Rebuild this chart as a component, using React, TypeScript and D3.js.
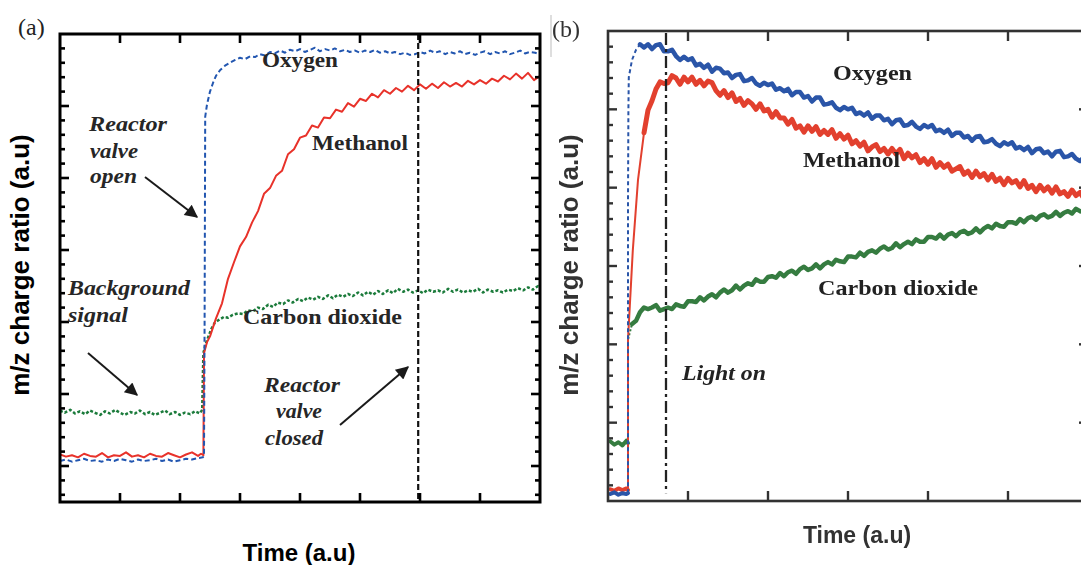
import React from "react";
import * as d3 from "d3";

type Pt = [number, number];

// ---------- Panel (a): valve open / closed experiment ----------
const oxygenA: Pt[] = [
  [0, 0.07], [0.1, 0.09], [0.2, 0.06], [0.3, 0.08], [0.4, 0.1], [0.5, 0.07], [0.6, 0.08], [0.7, 0.06],
  [0.8, 0.09], [0.9, 0.07], [1.0, 0.1], [1.1, 0.08], [1.2, 0.06], [1.3, 0.09], [1.4, 0.07], [1.5, 0.08],
  [1.6, 0.1], [1.7, 0.07], [1.8, 0.09], [1.9, 0.06], [2.0, 0.08], [2.1, 0.1], [2.2, 0.09], [2.3, 0.11],
  [2.38, 0.12], [2.4, 0.14], [2.41, 2.0], [2.42, 4.85], [2.45, 5.02], [2.5, 5.2], [2.55, 5.32], [2.6, 5.42],
  [2.67, 5.5], [2.75, 5.56], [2.83, 5.6], [2.92, 5.64], [3.0, 5.67], [3.08, 5.65], [3.17, 5.69], [3.25, 5.68],
  [3.33, 5.72], [3.42, 5.7], [3.5, 5.75], [3.58, 5.73], [3.67, 5.77], [3.75, 5.74], [3.83, 5.78], [3.92, 5.76],
  [4.0, 5.79], [4.08, 5.75], [4.17, 5.78], [4.25, 5.81], [4.33, 5.76], [4.42, 5.79], [4.5, 5.77], [4.58, 5.8],
  [4.67, 5.76], [4.75, 5.78], [4.83, 5.75], [4.92, 5.77], [5.0, 5.74], [5.08, 5.77], [5.17, 5.75], [5.25, 5.78],
  [5.33, 5.74], [5.42, 5.76], [5.5, 5.73], [5.58, 5.75], [5.67, 5.72], [5.75, 5.74], [5.83, 5.71], [5.92, 5.72],
  [6.0, 5.75], [6.08, 5.73], [6.17, 5.77], [6.25, 5.74], [6.33, 5.76], [6.42, 5.72], [6.5, 5.75], [6.58, 5.73],
  [6.67, 5.76], [6.75, 5.72], [6.83, 5.74], [6.92, 5.71], [7.0, 5.74], [7.08, 5.76], [7.17, 5.72], [7.25, 5.75],
  [7.33, 5.73], [7.42, 5.76], [7.5, 5.72], [7.58, 5.74], [7.67, 5.77], [7.75, 5.73], [7.83, 5.75], [7.92, 5.74],
  [8.0, 5.72],
];

const methanolA: Pt[] = [
  [0, 0.16], [0.1, 0.13], [0.2, 0.15], [0.3, 0.12], [0.4, 0.17], [0.5, 0.14], [0.6, 0.13], [0.7, 0.18],
  [0.8, 0.12], [0.9, 0.15], [1.0, 0.14], [1.1, 0.19], [1.2, 0.13], [1.3, 0.15], [1.4, 0.12], [1.5, 0.17],
  [1.6, 0.14], [1.7, 0.13], [1.8, 0.18], [1.9, 0.15], [2.0, 0.12], [2.1, 0.16], [2.2, 0.19], [2.3, 0.14],
  [2.35, 0.17], [2.39, 0.15], [2.4, 1.57], [2.45, 1.72], [2.5, 1.8], [2.6, 2.05], [2.7, 2.26], [2.8, 2.6],
  [2.9, 2.83], [3.0, 3.05], [3.1, 3.18], [3.2, 3.38], [3.3, 3.54], [3.4, 3.78], [3.5, 3.86], [3.6, 4.03],
  [3.7, 4.1], [3.8, 4.33], [3.9, 4.4], [4.0, 4.56], [4.1, 4.59], [4.2, 4.73], [4.3, 4.7], [4.4, 4.84],
  [4.5, 4.83], [4.6, 4.95], [4.7, 4.92], [4.8, 5.04], [4.9, 4.99], [5.0, 5.1], [5.1, 5.07], [5.2, 5.17],
  [5.3, 5.12], [5.4, 5.22], [5.5, 5.17], [5.6, 5.25], [5.7, 5.2], [5.8, 5.28], [5.9, 5.22], [6.0, 5.3],
  [6.1, 5.24], [6.2, 5.31], [6.3, 5.25], [6.4, 5.33], [6.5, 5.27], [6.6, 5.32], [6.7, 5.27], [6.8, 5.35],
  [6.9, 5.3], [7.0, 5.36], [7.1, 5.31], [7.2, 5.38], [7.3, 5.34], [7.4, 5.42], [7.5, 5.37], [7.6, 5.45],
  [7.7, 5.38], [7.8, 5.46], [7.9, 5.36], [8.0, 5.42],
];

const co2A: Pt[] = [
  [0, 0.77], [0.08, 0.74], [0.17, 0.78], [0.25, 0.73], [0.33, 0.76], [0.42, 0.72], [0.5, 0.77], [0.58, 0.74],
  [0.67, 0.71], [0.75, 0.76], [0.83, 0.73], [0.92, 0.78], [1.0, 0.74], [1.08, 0.71], [1.17, 0.75], [1.25, 0.73],
  [1.33, 0.77], [1.42, 0.72], [1.5, 0.75], [1.58, 0.71], [1.67, 0.74], [1.75, 0.77], [1.83, 0.72], [1.92, 0.75],
  [2.0, 0.71], [2.08, 0.74], [2.17, 0.72], [2.25, 0.76], [2.33, 0.73], [2.37, 0.78], [2.38, 1.2], [2.39, 1.57],
  [2.43, 1.7], [2.47, 1.79], [2.52, 1.9], [2.58, 1.99], [2.65, 2.03], [2.73, 2.07], [2.8, 2.06], [2.88, 2.1],
  [2.97, 2.12], [3.05, 2.11], [3.13, 2.16], [3.22, 2.15], [3.3, 2.2], [3.38, 2.18], [3.47, 2.24], [3.55, 2.21],
  [3.63, 2.27], [3.72, 2.25], [3.8, 2.3], [3.88, 2.27], [3.97, 2.32], [4.05, 2.29], [4.13, 2.34], [4.22, 2.31],
  [4.3, 2.35], [4.38, 2.32], [4.47, 2.37], [4.55, 2.33], [4.63, 2.38], [4.72, 2.35], [4.8, 2.39], [4.88, 2.36],
  [4.97, 2.41], [5.05, 2.37], [5.13, 2.42], [5.22, 2.38], [5.3, 2.43], [5.38, 2.39], [5.47, 2.44], [5.55, 2.4],
  [5.63, 2.46], [5.72, 2.42], [5.8, 2.45], [5.88, 2.41], [5.97, 2.44], [6.05, 2.4], [6.13, 2.45], [6.22, 2.42],
  [6.3, 2.44], [6.38, 2.41], [6.47, 2.46], [6.55, 2.42], [6.63, 2.45], [6.72, 2.41], [6.8, 2.44], [6.88, 2.42],
  [6.97, 2.46], [7.05, 2.41], [7.13, 2.45], [7.22, 2.42], [7.3, 2.44], [7.38, 2.41], [7.47, 2.45], [7.55, 2.43],
  [7.63, 2.47], [7.72, 2.44], [7.8, 2.48], [7.88, 2.45], [7.97, 2.5], [8.0, 2.48],
];

const valveClosedTimeA = 5.97;
const xTickValuesA = [1, 2, 3, 4, 5, 6, 7];

// ---------- Panel (b): illumination experiment ----------
const oxygenBaseB: Pt[] = [[0.03, 0.09], [0.08, 0.11], [0.13, 0.08], [0.18, 0.1], [0.23, 0.09], [0.25, 0.1]];
const methanolBaseB: Pt[] = [[0.03, 0.15], [0.08, 0.13], [0.13, 0.16], [0.18, 0.14], [0.23, 0.16], [0.25, 0.14]];
const co2BaseB: Pt[] = [[0.03, 0.76], [0.08, 0.72], [0.13, 0.75], [0.18, 0.71], [0.23, 0.77], [0.25, 0.74]];

const oxygenRiseB: Pt[] = [[0.25, 0.1], [0.25, 3.84], [0.255, 5.0], [0.26, 5.41], [0.3, 5.63], [0.35, 5.76], [0.4, 5.83]];
const methanolRiseB: Pt[] = [[0.25, 0.14], [0.25, 2.06], [0.31, 3.2], [0.375, 4.1], [0.44, 4.62], [0.45, 4.7]];
const co2RiseB: Pt[] = [[0.25, 0.74], [0.25, 2.06], [0.27, 2.14], [0.3, 2.26]];

// Dense traces after the valve opens, sampled every 0.05 time units
const SAMPLE_STEP_B = 0.05;
const oxygenStartB = 0.4;
const oxygenB = [
  5.83, 5.79, 5.83, 5.77, 5.82, 5.83, 5.74, 5.74, 5.76, 5.68, 5.63, 5.67, 5.63, 5.65, 5.56, 5.58,
  5.53, 5.57, 5.48, 5.53, 5.52, 5.46, 5.47, 5.4, 5.44, 5.45, 5.36, 5.37, 5.4, 5.33, 5.3, 5.34,
  5.31, 5.33, 5.25, 5.27, 5.23, 5.26, 5.18, 5.22, 5.22, 5.15, 5.17, 5.1, 5.15, 5.15, 5.06, 5.07,
  5.09, 5.02, 4.99, 5.03, 5.0, 5.02, 4.94, 4.96, 4.92, 4.96, 4.88, 4.92, 4.92, 4.86, 4.88, 4.81,
  4.86, 4.87, 4.79, 4.8, 4.84, 4.78, 4.75, 4.8, 4.77, 4.8, 4.72, 4.74, 4.7, 4.74, 4.66, 4.7,
  4.7, 4.64, 4.66, 4.6, 4.65, 4.66, 4.58, 4.59, 4.62, 4.56, 4.53, 4.58, 4.55, 4.58, 4.5, 4.52,
  4.48, 4.52, 4.44, 4.49, 4.5, 4.44, 4.46, 4.4, 4.46, 4.47, 4.39, 4.4, 4.43, 4.37, 4.34, 4.39,
  4.36,
];
const methanolStartB = 0.45;
const methanolB = [
  4.7, 4.99, 5.11, 5.26, 5.35, 5.33, 5.34, 5.43, 5.4, 5.32, 5.41, 5.35, 5.41, 5.32, 5.37, 5.3,
  5.36, 5.34, 5.24, 5.18, 5.24, 5.15, 5.21, 5.1, 5.14, 5.05, 5.11, 5.07, 5.0, 5.07, 4.98, 5.0,
  4.9, 4.97, 4.89, 4.89, 4.81, 4.87, 4.76, 4.79, 4.71, 4.79, 4.72, 4.78, 4.68, 4.73, 4.68, 4.74,
  4.63, 4.69, 4.62, 4.67, 4.56, 4.6, 4.53, 4.58, 4.47, 4.52, 4.55, 4.46, 4.5, 4.43, 4.5, 4.43,
  4.49, 4.37, 4.44, 4.38, 4.42, 4.32, 4.37, 4.3, 4.37, 4.26, 4.32, 4.26, 4.3, 4.21, 4.24, 4.27,
  4.17, 4.21, 4.13, 4.21, 4.14, 4.18, 4.1, 4.17, 4.08, 4.12, 4.04, 4.12, 4.06, 4.09, 4.01, 4.09,
  3.99, 4.03, 3.95, 4.03, 3.96, 4.01, 3.93, 4.01, 3.92, 3.95, 3.89, 3.97, 3.9, 3.94, 3.86, 3.91,
];
const co2StartB = 0.3;
const co2B = [
  2.26, 2.3, 2.41, 2.47, 2.45, 2.47, 2.5, 2.43, 2.45, 2.47, 2.45, 2.51, 2.49, 2.48, 2.55, 2.55,
  2.54, 2.6, 2.56, 2.61, 2.64, 2.6, 2.66, 2.7, 2.66, 2.69, 2.75, 2.7, 2.75, 2.78, 2.76, 2.83,
  2.8, 2.8, 2.86, 2.87, 2.85, 2.91, 2.87, 2.92, 2.94, 2.9, 2.96, 2.99, 2.95, 2.97, 3.02, 2.97,
  3.02, 3.05, 3.02, 3.08, 3.06, 3.05, 3.12, 3.12, 3.11, 3.17, 3.13, 3.18, 3.2, 3.17, 3.22, 3.25,
  3.21, 3.23, 3.29, 3.24, 3.28, 3.31, 3.28, 3.34, 3.31, 3.31, 3.37, 3.37, 3.35, 3.4, 3.35, 3.4,
  3.42, 3.38, 3.43, 3.45, 3.41, 3.43, 3.48, 3.43, 3.48, 3.51, 3.48, 3.54, 3.51, 3.5, 3.56, 3.56,
  3.54, 3.6, 3.56, 3.61, 3.63, 3.59, 3.64, 3.66, 3.62, 3.64, 3.69, 3.64, 3.68, 3.7, 3.67, 3.73,
  3.7, 3.69, 3.75,
];

const lightOnTimeB = 0.725;
const xTickValuesB = [1, 2, 3, 4, 5];

// ---------- helpers ----------
const toPts = (start: number, values: number[]): Pt[] =>
  values.map((v, i) => [start + i * SAMPLE_STEP_B, v] as Pt);

const COLORS = {
  blueA: "#2256b0",
  redA: "#e8322a",
  greenA: "#1b7b3b",
  blueB: "#2a54a8",
  redB: "#e2402f",
  greenB: "#367b40",
};

const SERIF = "'Liberation Serif', 'Times New Roman', serif";
const SANS = "'Liberation Sans', Arial, sans-serif";

type LabelProps = {
  x: number;
  y: number;
  w: number;
  italic?: boolean;
  fill: string;
  children: string;
};

// Bold serif annotation stretched to its measured width
function Label({ x, y, w, italic, fill, children }: LabelProps) {
  return (
    <text
      x={x}
      y={y}
      fontFamily={SERIF}
      fontWeight={700}
      fontStyle={italic ? "italic" : "normal"}
      fontSize={21}
      fill={fill}
      textLength={w}
      lengthAdjust="spacingAndGlyphs"
    >
      {children}
    </text>
  );
}

export default function App() {
  // Panel (a) scales
  const xA = d3.scaleLinear().domain([0, 8]).range([60, 540]);
  const yA = d3.scaleLinear().domain([-0.5, 6]).range([502, 34]);
  // Panel (b) scales (right edge runs past the page)
  const xB = d3.scaleLinear().domain([0, 6]).range([608, 1088]);
  const yB = d3.scaleLinear().domain([0, 6]).range([501, 31]);

  const lineA = d3.line<Pt>().x((d) => xA(d[0])).y((d) => yA(d[1]));
  const lineB = d3.line<Pt>().x((d) => xB(d[0])).y((d) => yB(d[1]));

  const yTicksA = d3.range(-2, 30).map((i) => ({ v: i / 5, major: i % 5 === 0 }));
  const yTicksB = d3.range(1, 30).map((i) => ({ v: i / 5, major: i % 5 === 0 }));

  const inkA = "#262626";
  const inkB = "#222";

  return (
    <svg
      width={1081}
      height={565}
      viewBox="0 0 1081 565"
      style={{ position: "absolute", left: 0, top: 0, background: "#fff" }}
    >
      <defs>
        <marker
          id="arrowHead"
          viewBox="0 0 10 10"
          refX={9}
          refY={5}
          markerWidth={16}
          markerHeight={13}
          markerUnits="userSpaceOnUse"
          orient="auto"
        >
          <path d="M0,0 L10,5 L0,10 z" fill="#1a1a1a" />
        </marker>
        <filter id="soft" x="-5%" y="-5%" width="110%" height="110%">
          <feGaussianBlur stdDeviation={0.45} />
        </filter>
        <clipPath id="clipA">
          <rect x={60} y={34} width={480} height={468} />
        </clipPath>
      </defs>
      <rect x={0} y={0} width={1081} height={565} fill="#fff" />

      {/* ================= Panel (a) ================= */}
      <g>
        <text x={18} y={35} fontFamily={SERIF} fontSize={24} fill="#222">
          (a)
        </text>

        <g clipPath="url(#clipA)" fill="none" strokeLinejoin="round">
          <path d={lineA(co2A) ?? ""} stroke={COLORS.greenA} strokeWidth={2.5} strokeDasharray="3 2" />
          <path d={lineA(methanolA) ?? ""} stroke={COLORS.redA} strokeWidth={2} />
          <path d={lineA(oxygenA) ?? ""} stroke={COLORS.blueA} strokeWidth={2} strokeDasharray="5 3" />
        </g>

        {/* valve-closed marker */}
        <line
          x1={xA(valveClosedTimeA)}
          x2={xA(valveClosedTimeA)}
          y1={yA(6)}
          y2={yA(-0.5)}
          stroke="#111"
          strokeWidth={2.2}
          strokeDasharray="6 3"
        />

        {/* frame */}
        <rect x={60} y={34} width={480} height={468} fill="none" stroke="#000" strokeWidth={3} />
        {xTickValuesA.map((t) => (
          <g key={`xa${t}`} stroke="#000" strokeWidth={2.6}>
            <line x1={xA(t)} x2={xA(t)} y1={yA(6)} y2={yA(6) + 9} />
            <line x1={xA(t)} x2={xA(t)} y1={yA(-0.5)} y2={yA(-0.5) - 9} />
          </g>
        ))}
        {yTicksA.map(({ v, major }) => (
          <g key={`ya${v}`} stroke="#000" strokeWidth={2.6}>
            <line x1={60} x2={60 + (major ? 9 : 5)} y1={yA(v)} y2={yA(v)} />
            <line x1={540} x2={540 - (major ? 9 : 5)} y1={yA(v)} y2={yA(v)} />
          </g>
        ))}

        {/* axis titles */}
        <text
          x={299}
          y={561}
          textAnchor="middle"
          fontFamily={SANS}
          fontWeight={700}
          fontSize={24}
          fill="#000"
        >
          Time (a.u)
        </text>
        <text
          transform="translate(29,265) rotate(-90)"
          textAnchor="middle"
          fontFamily={SANS}
          fontWeight={700}
          fontSize={26}
          fill="#000"
        >
          m/z charge ratio (a.u)
        </text>

        {/* series labels */}
        <Label x={262} y={67} w={76} fill={inkA}>Oxygen</Label>
        <Label x={312} y={150} w={96} fill={inkA}>Methanol</Label>
        <Label x={243} y={324} w={159} fill={inkA}>Carbon dioxide</Label>

        {/* annotations */}
        <Label x={89} y={131} w={78} italic fill={inkA}>Reactor</Label>
        <Label x={90} y={158} w={48} italic fill={inkA}>valve</Label>
        <Label x={90} y={183} w={47} italic fill={inkA}>open</Label>

        <Label x={68} y={295} w={122} italic fill={inkA}>Background</Label>
        <Label x={68} y={322} w={60} italic fill={inkA}>signal</Label>

        <Label x={264} y={392} w={76} italic fill={inkA}>Reactor</Label>
        <Label x={276} y={418} w={46} italic fill={inkA}>valve</Label>
        <Label x={265} y={445} w={58} italic fill={inkA}>closed</Label>

        <g stroke="#1a1a1a" strokeWidth={2} markerEnd="url(#arrowHead)">
          <line x1={145} y1={177} x2={197} y2={217} />
          <line x1={88} y1={353} x2={137} y2={395} />
          <line x1={340} y1={425} x2={408} y2={367} />
        </g>
      </g>

      {/* divider between panels */}
      <line x1={551} x2={551} y1={15} y2={57} stroke="#c8c8c8" strokeWidth={1.2} />

      {/* ================= Panel (b) ================= */}
      <g filter="url(#soft)">
        <text x={552} y={37} fontFamily={SERIF} fontSize={24} fill="#333">
          (b)
        </text>

        <g fill="none" strokeLinejoin="round" strokeLinecap="round">
          {/* background before opening */}
          <path d={lineB(co2BaseB) ?? ""} stroke={COLORS.greenB} strokeWidth={4} />
          <path d={lineB(methanolBaseB) ?? ""} stroke={COLORS.redB} strokeWidth={4} />
          <path d={lineB(oxygenBaseB) ?? ""} stroke={COLORS.blueB} strokeWidth={4} />
          {/* rising edges */}
          <path d={lineB(co2RiseB) ?? ""} stroke={COLORS.greenB} strokeWidth={2} strokeDasharray="2 2" strokeLinecap="butt" />
          <path d={lineB(methanolRiseB) ?? ""} stroke={COLORS.redB} strokeWidth={2} />
          <path d={lineB(oxygenRiseB) ?? ""} stroke={COLORS.blueB} strokeWidth={2} strokeDasharray="4 3" strokeLinecap="butt" />
          {/* dense traces */}
          <path d={lineB(toPts(co2StartB, co2B)) ?? ""} stroke={COLORS.greenB} strokeWidth={4.5} />
          <path d={lineB(toPts(methanolStartB, methanolB)) ?? ""} stroke={COLORS.redB} strokeWidth={5} />
          <path d={lineB(toPts(oxygenStartB, oxygenB)) ?? ""} stroke={COLORS.blueB} strokeWidth={4.5} />
        </g>

        {/* light-on marker */}
        <line
          x1={xB(lightOnTimeB)}
          x2={xB(lightOnTimeB)}
          y1={yB(6) + 2}
          y2={yB(0.1)}
          stroke="#222"
          strokeWidth={2.3}
          strokeDasharray="12 4 3 4"
        />

        {/* frame */}
        <rect x={608} y={31} width={480} height={470} fill="none" stroke="#333" strokeWidth={2.6} />
        {xTickValuesB.map((t) => (
          <g key={`xb${t}`} stroke="#333" strokeWidth={2.4}>
            <line x1={xB(t)} x2={xB(t)} y1={yB(6)} y2={yB(6) + 10} />
            <line x1={xB(t)} x2={xB(t)} y1={yB(0)} y2={yB(0) - 10} />
          </g>
        ))}
        {yTicksB.map(({ v, major }) => (
          <g key={`yb${v}`} stroke="#333" strokeWidth={2.4}>
            <line x1={608} x2={608 + (major ? 9 : 5)} y1={yB(v)} y2={yB(v)} />
            <line x1={1088} x2={1088 - (major ? 9 : 5)} y1={yB(v)} y2={yB(v)} />
          </g>
        ))}

        <text
          x={857}
          y={543}
          textAnchor="middle"
          fontFamily={SANS}
          fontWeight={700}
          fontSize={23}
          fill="#333"
        >
          Time (a.u)
        </text>
        <text
          transform="translate(578,265) rotate(-90)"
          textAnchor="middle"
          fontFamily={SANS}
          fontWeight={700}
          fontSize={26}
          fill="#333"
        >
          m/z charge ratio (a.u)
        </text>

        <Label x={833} y={80} w={79} fill={inkB}>Oxygen</Label>
        <Label x={803} y={167} w={97} fill={inkB}>Methanol</Label>
        <Label x={818} y={295} w={160} fill={inkB}>Carbon dioxide</Label>
        <Label x={682} y={380} w={84} italic fill={inkB}>Light on</Label>
      </g>
    </svg>
  );
}
